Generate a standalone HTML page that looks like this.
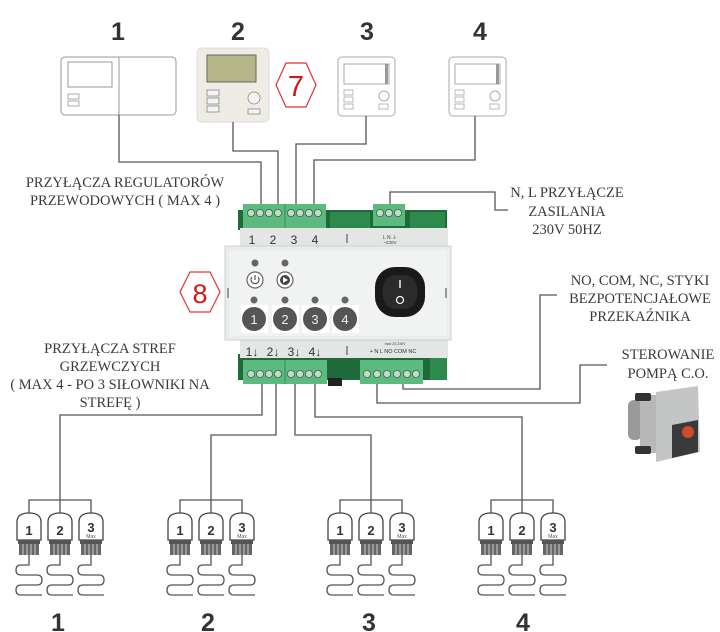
<!DOCTYPE html>
<html><head><meta charset="utf-8"><style>
html,body{margin:0;padding:0;background:#fff;}
svg{display:block;}
.ser{font-family:"Liberation Serif",serif;font-size:14.5px;fill:#3a3a3a;text-anchor:middle;}
.big{font-family:"Liberation Sans",sans-serif;font-weight:bold;font-size:25px;fill:#333;text-anchor:middle;}
.ln{fill:none;stroke:#555;stroke-width:1.3;}
</style></head><body>
<svg width="720" height="632" viewBox="0 0 720 632" xmlns="http://www.w3.org/2000/svg">
<defs>
<g id="act">
  <path d="M-12,27 L-12,9 Q-12,0 0,0 Q12,0 12,9 L12,27 Z" fill="#fff" stroke="#444" stroke-width="1.3"/>
  <rect x="-11" y="27" width="22" height="4" fill="#555"/>
  <rect x="-10" y="31" width="20" height="11" fill="#666"/>
  <path d="M-6,31v11M-2,31v11M2,31v11M6,31v11" stroke="#ccc" stroke-width="1"/>
  <path class="ln" d="M0,42 L0,52 L-8,52 Q-13,52 -13,57 Q-13,62 -8,62 L8,62 Q13,62 13,67 Q13,72 8,72 L-8,72 Q-13,72 -13,77 Q-13,82 -8,82 L13,82"/>
</g>
<g id="zone">
  <path class="ln" d="M-31,13 L-31,0 L31,0 L31,13 M0,0 L0,13"/>
  <use href="#act" x="-31" y="13"/><use href="#act" x="0" y="13"/><use href="#act" x="31" y="13"/>
  <text x="-31" y="35" font-family="Liberation Sans,sans-serif" font-weight="bold" font-size="13" fill="#333" text-anchor="middle">1</text>
  <text x="0" y="35" font-family="Liberation Sans,sans-serif" font-weight="bold" font-size="13" fill="#333" text-anchor="middle">2</text>
  <text x="31" y="32" font-family="Liberation Sans,sans-serif" font-weight="bold" font-size="13" fill="#333" text-anchor="middle">3</text>
  <text x="31" y="38" font-family="Liberation Sans,sans-serif" font-size="5" fill="#555" text-anchor="middle">Max</text>
</g>
</defs>

<!-- top numbers -->
<text class="big" x="118" y="40">1</text>
<text class="big" x="238" y="40">2</text>
<text class="big" x="367" y="40">3</text>
<text class="big" x="480" y="40">4</text>

<!-- thermostat 1 -->
<rect x="61" y="57" width="115" height="58" rx="4" fill="#fff" stroke="#999" stroke-width="1"/>
<line x1="119" y1="57" x2="119" y2="115" stroke="#999"/>
<rect x="68" y="62" width="44" height="25" fill="#fff" stroke="#999"/>
<rect x="68" y="94" width="11" height="5" fill="#fff" stroke="#999" stroke-width=".8"/>
<rect x="68" y="101" width="11" height="5" fill="#fff" stroke="#999" stroke-width=".8"/>
<!-- thermostat 2 -->
<rect x="197" y="48" width="72" height="74" rx="5" fill="#eeece4" stroke="#ddd"/>
<rect x="207" y="55" width="49" height="27" fill="#b5b58a" stroke="#666"/>
<rect x="207" y="90" width="12" height="6" fill="#f4f4f4" stroke="#888" stroke-width=".8"/>
<rect x="207" y="98" width="12" height="6" fill="#f4f4f4" stroke="#888" stroke-width=".8"/>
<rect x="207" y="106" width="12" height="6" fill="#f4f4f4" stroke="#888" stroke-width=".8"/>
<circle cx="254" cy="98" r="6" fill="#f4f4f4" stroke="#888" stroke-width=".8"/>
<rect x="248" y="109" width="12" height="5" fill="#f4f4f4" stroke="#888" stroke-width=".8"/>
<!-- hex 7 -->
<polygon points="286,63 306,63 316,85 306,107 286,107 276,85" fill="#fff" stroke="#d33" stroke-width="1.2" stroke-linejoin="round"/>
<text x="296" y="96" font-family="Liberation Sans,sans-serif" font-size="29" fill="#d01818" text-anchor="middle">7</text>
<!-- thermostats 3,4 -->
<g id="t3">
<rect x="338" y="57" width="57" height="59" rx="4" fill="#fff" stroke="#aaa"/>
<rect x="344" y="64" width="45" height="20" fill="#fff" stroke="#aaa"/>
<rect x="385" y="64" width="3" height="20" fill="#999"/>
<rect x="344" y="90" width="9" height="5" fill="#fff" stroke="#aaa" stroke-width=".8"/>
<rect x="344" y="97" width="9" height="5" fill="#fff" stroke="#aaa" stroke-width=".8"/>
<rect x="344" y="104" width="9" height="5" fill="#fff" stroke="#aaa" stroke-width=".8"/>
<circle cx="384" cy="96" r="5" fill="#fff" stroke="#aaa"/>
<rect x="379" y="104" width="9" height="5" fill="#fff" stroke="#aaa" stroke-width=".8"/>
</g>
<use href="#t3" x="111" y="0"/>

<!-- top wires -->
<path class="ln" d="M119,115 V162 H261 V206 M233,122 V151 H278 V206 M366,116 V144 H296 V206 M475,116 V160 H314 V206"/>
<path class="ln" d="M390,206 V192 H495 V210 H508"/>

<!-- labels -->
<text class="ser" x="125" y="187">PRZYŁĄCZA REGULATORÓW</text>
<text class="ser" x="125" y="205">PRZEWODOWYCH ( MAX 4 )</text>
<text class="ser" x="567" y="197">N, L PRZYŁĄCZE</text>
<text class="ser" x="567" y="216">ZASILANIA</text>
<text class="ser" x="567" y="234">230V 50HZ</text>
<text class="ser" x="640" y="285">NO, COM, NC, STYKI</text>
<text class="ser" x="640" y="303">BEZPOTENCJAŁOWE</text>
<text class="ser" x="640" y="321">PRZEKAŹNIKA</text>
<text class="ser" x="668" y="359">STEROWANIE</text>
<text class="ser" x="668" y="378">POMPĄ C.O.</text>
<text class="ser" x="110" y="353">PRZYŁĄCZA STREF</text>
<text class="ser" x="110" y="371">GRZEWCZYCH</text>
<text class="ser" x="110" y="389">( MAX 4 - PO 3 SIŁOWNIKI NA</text>
<text class="ser" x="110" y="407">STREFĘ )</text>

<!-- device -->
<rect x="238" y="210" width="209" height="20" fill="#1f6a3a"/>
<rect x="238" y="354" width="209" height="26" fill="#1f6a3a"/>
<rect x="330" y="212" width="40" height="16" fill="#2b8a4c"/>
<rect x="410" y="212" width="35" height="16" fill="#2b8a4c"/>
<rect x="430" y="358" width="17" height="22" fill="#2b8a4c"/>
<rect x="240" y="228" width="208" height="130" fill="#e4e6e6"/>
<rect x="225" y="246" width="226" height="94" fill="#ebecec" stroke="#cfd1d1"/>
<rect x="229" y="250" width="218" height="86" fill="#f1f2f2"/>
<!-- top terminals -->
<rect x="243" y="204" width="42" height="24" fill="#5dba7e"/><rect x="285" y="204" width="41" height="24" fill="#5dba7e"/>
<line x1="285" y1="204" x2="285" y2="228" stroke="#3a8a57"/>
<rect x="373" y="204" width="32" height="22" fill="#5dba7e"/>
<g fill="#c9d7cd" stroke="#2c6e44" stroke-width=".8">
<circle cx="251" cy="213" r="3.6"/><circle cx="260" cy="213" r="3.6"/><circle cx="269" cy="213" r="3.6"/><circle cx="278" cy="213" r="3.6"/>
<circle cx="291" cy="213" r="3.6"/><circle cx="300" cy="213" r="3.6"/><circle cx="309" cy="213" r="3.6"/><circle cx="318" cy="213" r="3.6"/>
<circle cx="380" cy="213" r="3.6"/><circle cx="389" cy="213" r="3.6"/><circle cx="398" cy="213" r="3.6"/>
</g>
<g font-family="Liberation Sans,sans-serif" font-size="12" fill="#333" text-anchor="middle">
<text x="252" y="244">1</text><text x="273" y="244">2</text><text x="294" y="244">3</text><text x="315" y="244">4</text>
<text x="252" y="356">1↓</text><text x="273" y="356">2↓</text><text x="294" y="356">3↓</text><text x="315" y="356">4↓</text>
</g>
<line x1="347" y1="234" x2="347" y2="243" stroke="#444"/>
<line x1="347" y1="346" x2="347" y2="355" stroke="#444"/>
<text x="390" y="239" font-family="Liberation Sans,sans-serif" font-size="5" fill="#444" text-anchor="middle">L  N  ⏚</text>
<text x="390" y="244" font-family="Liberation Sans,sans-serif" font-size="4.5" fill="#444" text-anchor="middle">~230V</text>
<text x="395" y="345" font-family="Liberation Sans,sans-serif" font-size="3.5" fill="#444" text-anchor="middle">max 2A 230V</text>
<text x="393" y="353" font-family="Liberation Sans,sans-serif" font-size="5.5" fill="#333" text-anchor="middle">+  N  L  NO COM NC</text>
<!-- LEDs & icons -->
<g fill="#666"><circle cx="255" cy="263" r="3.5"/><circle cx="285" cy="263" r="3.5"/>
<circle cx="254" cy="300" r="3.5"/><circle cx="285" cy="300" r="3.5"/><circle cx="315" cy="300" r="3.5"/><circle cx="345" cy="300" r="3.5"/></g>
<circle cx="255" cy="280" r="8" fill="#fff" stroke="#666" stroke-width="1.2"/>
<path d="M252,277 A4,4 0 1 0 258,277 M255,275 V280" fill="none" stroke="#555" stroke-width="1.2"/>
<circle cx="285" cy="280" r="8" fill="#fff" stroke="#666" stroke-width="1.2"/>
<circle cx="285" cy="280" r="5" fill="#444"/><polygon points="283,277 283,283 288,280" fill="#fff"/>
<g fill="#fff"><rect x="241" y="305" width="27" height="28"/><rect x="272" y="305" width="27" height="28"/><rect x="302" y="305" width="27" height="28"/><rect x="332" y="305" width="27" height="28"/></g>
<g fill="#555"><circle cx="254" cy="319" r="12"/><circle cx="285" cy="319" r="12"/><circle cx="315" cy="319" r="12"/><circle cx="345" cy="319" r="12"/></g>
<g font-family="Liberation Sans,sans-serif" font-size="13" fill="#eee" text-anchor="middle">
<text x="254" y="324">1</text><text x="285" y="324">2</text><text x="315" y="324">3</text><text x="345" y="324">4</text></g>
<line x1="228" y1="288" x2="228" y2="298" stroke="#444"/><line x1="446" y1="288" x2="446" y2="298" stroke="#444"/>
<!-- switch -->
<rect x="375" y="267" width="50" height="50" rx="20" fill="#1a1a1a"/>
<rect x="383" y="275" width="34" height="34" rx="13" fill="#2b2b2b"/>
<line x1="400" y1="280" x2="400" y2="288" stroke="#eee" stroke-width="1.5"/>
<circle cx="400" cy="300" r="3.5" fill="none" stroke="#eee" stroke-width="1.3"/>
<!-- hex 8 -->
<polygon points="190,272 210,272 220,292 210,312 190,312 180,292" fill="#fff" stroke="#d33" stroke-width="1.2"/>
<text x="200" y="303" font-family="Liberation Sans,sans-serif" font-size="27" fill="#d01818" text-anchor="middle">8</text>
<!-- bottom terminals -->
<rect x="243" y="360" width="42" height="24" fill="#5dba7e"/><rect x="285" y="360" width="42" height="24" fill="#5dba7e"/>
<line x1="285" y1="360" x2="285" y2="384" stroke="#3a8a57"/>
<rect x="360" y="360" width="63" height="24" fill="#5dba7e"/>
<rect x="328" y="378" width="14" height="8" fill="#222"/>
<g fill="#c9d7cd" stroke="#2c6e44" stroke-width=".8">
<circle cx="251" cy="374" r="3.6"/><circle cx="260" cy="374" r="3.6"/><circle cx="269" cy="374" r="3.6"/><circle cx="278" cy="374" r="3.6"/>
<circle cx="291" cy="374" r="3.6"/><circle cx="300" cy="374" r="3.6"/><circle cx="309" cy="374" r="3.6"/><circle cx="318" cy="374" r="3.6"/>
<circle cx="367" cy="374" r="3.6"/><circle cx="377" cy="374" r="3.6"/><circle cx="387" cy="374" r="3.6"/><circle cx="397" cy="374" r="3.6"/><circle cx="407" cy="374" r="3.6"/><circle cx="416" cy="374" r="3.6"/>
</g>
<!-- bottom wires -->
<path class="ln" d="M262,384 V415 H60 V500 M276,384 V435 H211 V500 M295,384 V435 H371 V500 M315,384 V417 H522 V500"/>
<path class="ln" d="M403,384 V389 H540 V295 H557 M377,384 V403 H580 V365 H607"/>

<!-- pump -->
<rect x="628" y="400" width="14" height="40" rx="6" fill="#9a9a9a"/>
<rect x="640" y="395" width="18" height="58" fill="#b8b8b8"/>
<rect x="635" y="393" width="16" height="8" rx="2" fill="#333"/>
<rect x="635" y="446" width="16" height="8" rx="2" fill="#333"/>
<polygon points="656,392 698,386 700,452 656,462" fill="#c4c6c6"/>
<polygon points="672,425 698,420 698,452 672,458" fill="#3a3a3a"/>
<circle cx="688" cy="432" r="6" fill="#d24a2a"/>

<!-- actuators -->
<use href="#zone" x="60" y="500"/>
<use href="#zone" x="211" y="500"/>
<use href="#zone" x="371" y="500"/>
<use href="#zone" x="522" y="500"/>

<text class="big" x="58" y="631">1</text>
<text class="big" x="208" y="631">2</text>
<text class="big" x="369" y="631">3</text>
<text class="big" x="523" y="631">4</text>
</svg>
</body></html>
